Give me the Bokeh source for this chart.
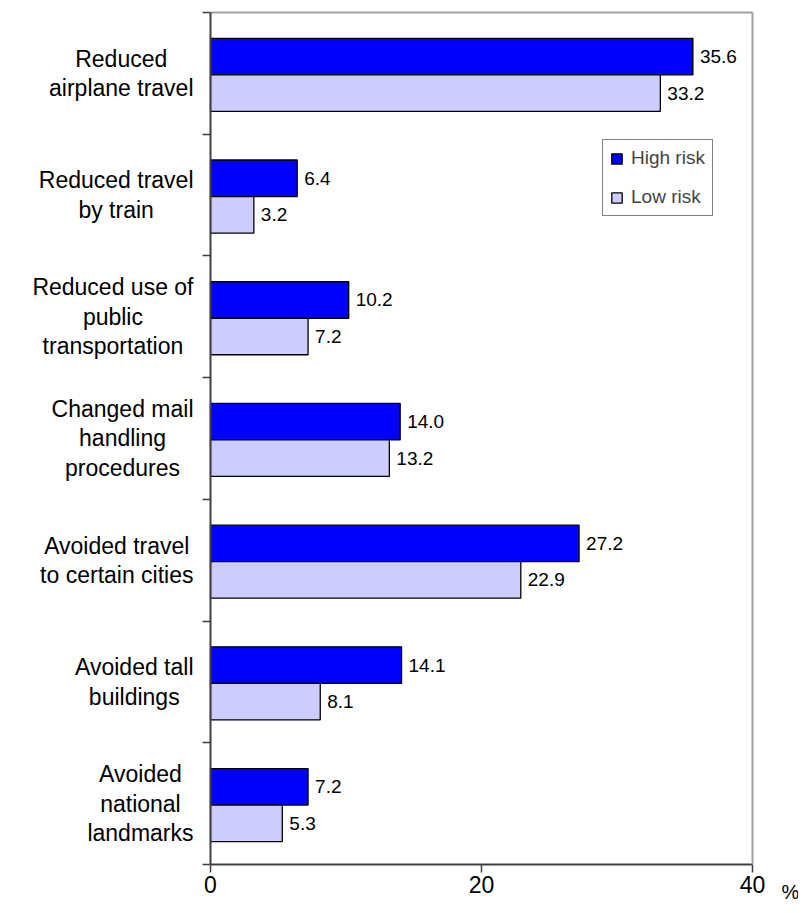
from bokeh.plotting import figure
from bokeh.models import Range1d, FixedTicker, ColumnDataSource, LinearAxis
from bokeh.transform import dodge
from bokeh.core.properties import value
from bokeh.embed import file_html
from bokeh.resources import INLINE

categories = [
    "Reduced\nairplane travel",
    "Reduced travel\nby train",
    "Reduced use of\npublic\ntransportation",
    "Changed mail\nhandling\nprocedures",
    "Avoided travel\nto certain cities",
    "Avoided tall\nbuildings",
    "Avoided\nnational\nlandmarks",
]
high_risk = [35.6, 6.4, 10.2, 14.0, 27.2, 14.1, 7.2]
low_risk = [33.2, 3.2, 7.2, 13.2, 22.9, 8.1, 5.3]
x_ticks = [0, 20, 40]
series_names = ["High risk", "Low risk"]
unit_label = "%"

FONT = "Liberation Sans"
n = len(categories)
ypos = [n - i - 0.5 for i in range(n)]

# layout (pixels on the canvas)
W, H = 798, 905
X0, X40 = 210, 752      # pixel columns of value 0 and 40
YTOP, YBOT = 12, 864    # pixel rows of the top and bottom of the value area
sx = (X40 - X0) / 40.0
sy = (YBOT - YTOP) / float(n)

x_range = Range1d(-X0 / sx, 40 + (W - X40) / sx)
y_range = Range1d(-(H - YBOT) / sy, n + YTOP / sy)

src = ColumnDataSource(dict(
    y=ypos,
    cat=categories,
    high=high_risk,
    low=low_risk,
    high_txt=[f"{v:.1f}" for v in high_risk],
    low_txt=[f"{v:.1f}" for v in low_risk],
))

p = figure(
    frame_width=W, frame_height=H,
    x_range=x_range, y_range=y_range,
    x_axis_location=None, y_axis_location=None,
    output_backend="svg", toolbar_location=None,
    min_border=0,
)
p.outline_line_color = None
p.background_fill_color = "white"
p.border_fill_color = "white"

bar_h = 0.30
off_hi, off_lo = 0.138, -0.162
p.hbar(y=dodge("y", off_hi, range=p.y_range), right="high", left=0, height=bar_h,
       source=src, fill_color="#0000FF", line_color="black", line_width=1.3,
       legend_label=series_names[0])
p.hbar(y=dodge("y", off_lo, range=p.y_range), right="low", left=0, height=bar_h,
       source=src, fill_color="#CCCCFF", line_color="black", line_width=1.3,
       legend_label=series_names[1])

p.text(x="high", y=dodge("y", off_hi, range=p.y_range), text="high_txt", source=src,
       x_offset=7, text_align="left", text_baseline="middle",
       text_font=value(FONT), text_font_size="19px", text_color="black")
p.text(x="low", y=dodge("y", off_lo, range=p.y_range), text="low_txt", source=src,
       x_offset=7, text_align="left", text_baseline="middle",
       text_font=value(FONT), text_font_size="19px", text_color="black")

# category labels, lines centred, block right-aligned next to the axis
p.text(x=0, y="y", text="cat", source=src, x_offset=-17,
       text_align="center", text_baseline="middle", anchor="center_right",
       text_font=value(FONT), text_font_size="23px", text_color="black",
       text_line_height=1.13)

# unit label next to the last tick
p.text(x=[40], y=[0], text=[unit_label], x_offset=38, y_offset=27,
       text_align="center", text_baseline="middle",
       text_font=value(FONT), text_font_size="20px", text_color="black")

# bottom value axis
xa = LinearAxis(fixed_location=0, bounds=(0, 40), ticker=FixedTicker(ticks=x_ticks))
xa.minor_tick_line_color = None
xa.major_tick_out = 8
xa.major_tick_in = 0
xa.axis_line_color = "#404040"
xa.axis_line_width = 2
xa.major_tick_line_color = "#404040"
xa.major_tick_line_width = 1.5
xa.major_label_text_font = FONT
xa.major_label_text_font_size = "23px"
xa.major_label_text_color = "black"
xa.major_label_standoff = 3
p.add_layout(xa, "below")

# left category axis (ticks between categories)
ya = LinearAxis(fixed_location=0, bounds=(0, n),
                ticker=FixedTicker(ticks=[], minor_ticks=list(range(n + 1))))
ya.major_tick_line_color = None
ya.minor_tick_out = 8
ya.minor_tick_in = 0
ya.minor_tick_line_color = "#404040"
ya.minor_tick_line_width = 1.5
ya.axis_line_color = "#404040"
ya.axis_line_width = 2
p.add_layout(ya, "left")

# grey top and right frame edges
top = LinearAxis(fixed_location=n, bounds=(0, 40), ticker=FixedTicker(ticks=[]))
top.axis_line_color = "#A0A0A0"
top.axis_line_width = 2
top.major_tick_line_color = None
top.minor_tick_line_color = None
p.add_layout(top, "above")

right = LinearAxis(fixed_location=40, bounds=(0, n), ticker=FixedTicker(ticks=[]))
right.axis_line_color = "#A0A0A0"
right.axis_line_width = 2
right.major_tick_line_color = None
right.minor_tick_line_color = None
p.add_layout(right, "right")

p.xgrid.visible = False
p.ygrid.visible = False

lg = p.legend[0]
lg.location = (602, H - 216)
lg.margin = 0
lg.padding = 7
lg.spacing = 17
lg.label_height = 20
lg.glyph_height = 13
lg.glyph_width = 13
lg.label_standoff = 8
lg.label_text_font = FONT
lg.label_text_font_size = "19px"
lg.border_line_color = "black"
lg.border_line_width = 1
lg.background_fill_color = "white"
lg.background_fill_alpha = 1

open("out.html", "w").write(file_html(p, INLINE))
